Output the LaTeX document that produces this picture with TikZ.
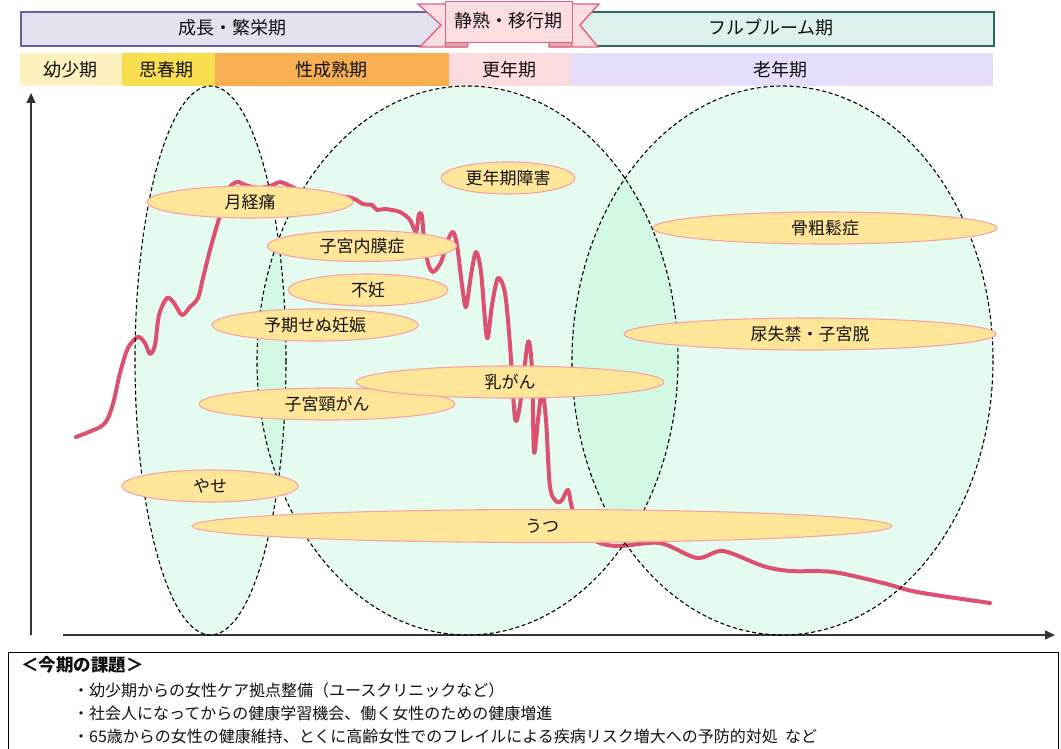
\documentclass[tikz,border=0pt]{standalone}
\usepackage{fontspec}
\setmainfont{Noto Sans CJK JP}
\usetikzlibrary{shapes.geometric,arrows.meta}
\definecolor{purpleFill}{HTML}{E4E1EE}
\definecolor{purpleLine}{HTML}{6A5F9C}
\definecolor{tealFill}{HTML}{DDF0EE}
\definecolor{tealLine}{HTML}{2E6A60}
\definecolor{ribFill}{HTML}{FCDDE1}
\definecolor{ribLine}{HTML}{E2607C}
\definecolor{foldFill}{HTML}{D9A9B2}
\definecolor{bandA}{HTML}{FDF2BD}
\definecolor{bandB}{HTML}{F9DF4F}
\definecolor{bandC}{HTML}{F6AF51}
\definecolor{bandD}{HTML}{FDDCDF}
\definecolor{bandE}{HTML}{E6DDFB}
\definecolor{labFill}{HTML}{FFE699}
\definecolor{labLine}{HTML}{F5A3A3}
\definecolor{curveCol}{HTML}{DC5070}
\definecolor{mint}{RGB}{151,242,192}
\definecolor{ink}{HTML}{111111}
\definecolor{axisCol}{HTML}{333333}
\begin{document}
\begin{tikzpicture}[x=1pt,y=-1pt,
  banner/.style={font=\fontsize{18pt}{21pt}\selectfont, text=ink, inner sep=0pt},
  band/.style={draw=none, inner sep=0pt, minimum height=33pt, anchor=north west, font=\fontsize{18pt}{21pt}\selectfont, text=ink},
  zone/.style={ellipse, draw=none, fill=mint, fill opacity=0.24, inner sep=0pt},
  zoneline/.style={draw=black, line width=1.1pt, dash pattern=on 4pt off 2.6pt},
  lab/.style={ellipse, draw=labLine, line width=1.1pt, fill=labFill, inner sep=0pt, minimum height=32pt, text=ink, font=\fontsize{17pt}{20pt}\selectfont},
  ribbon/.style={draw=ribLine, fill=ribFill, line width=1.4pt, line join=miter},
  fold/.style={draw=ribLine, fill=foldFill, line width=1pt, rounded corners=2pt},
  curve/.style={draw=curveCol, line width=4pt, line cap=round, line join=round},
  axis/.style={draw=axisCol, line width=1.3pt, -{Triangle[length=10pt,width=9pt]}},
  note/.style={anchor=west, inner sep=0pt, text=ink, font=\fontsize{16pt}{18pt}\selectfont}
]
\useasboundingbox (0,0) rectangle (1061,749);
\fill[white] (0,0) rectangle (1061,749);

% top stage bars
\node[draw=purpleLine, fill=purpleFill, line width=1.8pt, anchor=north west, minimum width=440pt, minimum height=34pt, inner sep=0pt] (grow) at (20,11) {};
\node[draw=tealLine, fill=tealFill, line width=1.8pt, anchor=north west, minimum width=433pt, minimum height=34pt, inner sep=0pt] (bloom) at (560,11) {};
\node[banner] (growt) at (232,28) {成長・繁栄期};
\node[banner] (bloomt) at (771,28) {フルブルーム期};

% ribbon
\filldraw[ribbon] (418,4) -- (467,4) -- (467,47) -- (420,47) -- (441,25) -- cycle;
\filldraw[ribbon] (599,4) -- (549,4) -- (549,47) -- (598,47) -- (580,25) -- cycle;
\filldraw[fold] (445,41) rectangle (468,47);
\filldraw[fold] (549,41) rectangle (572,47);
\node[ribbon, anchor=north west, minimum width=127pt, minimum height=41pt, inner sep=0pt] (rib) at (445,1) {};
\node[banner] (ribt) at (508,21) {静熟・移行期};

% life stage band
\node[band, fill=bandA, minimum width=102pt] (b1) at (20,53) {};
\node[band, fill=bandB, minimum width=93pt] (b2) at (122,53) {};
\node[band, fill=bandC, minimum width=234pt] (b3) at (215,53) {};
\node[band, fill=bandD, minimum width=122pt] (b4) at (449,53) {};
\node[band, fill=bandE, minimum width=422pt] (b5) at (571,53) {};
\node[banner] (b1t) at (70,70) {幼少期};
\node[banner] (b2t) at (166,70) {思春期};
\node[banner] (b3t) at (331,70) {性成熟期};
\node[banner] (b4t) at (509,70) {更年期};
\node[banner] (b5t) at (780,70) {老年期};

% axes
\coordinate (yo) at (31,635);
\coordinate (yt) at (31,93);
\coordinate (xo) at (63,635);
\coordinate (xt) at (1055,635);
\draw[axis] (yo) -- (yt);
\draw[axis] (xo) -- (xt);

% zones
\node[zone, minimum width=151pt, minimum height=549pt] (e1) at (210.5,360.5) {};
\node[zone, minimum width=421pt, minimum height=549pt] (e2) at (467.5,360.5) {};
\node[zone, minimum width=421pt, minimum height=549pt] (e3) at (782.5,360.5) {};

% curve
\draw[curve] plot[smooth, tension=0.5] coordinates {
(76,437) (100,427) (108,418) (114,400) (120,373) (128,348) (138,337) (145,343) (150,354) (155,345) (159,315) (167,298) (174,303) (182,315) (190,307) (198,298) (203,278) (210,250) (218,222) (228,190) (237,182) (245,185) (258,188) (270,186) (280,182) (288,185) (300,190) (330,195) (352,198) (363,204) (372,205) (377,210) (385,209) (400,212) (410,220) (416,232) (419,214) (422,216) (424,240) (428,263) (433,272) (441,262) (448,240) (453,232) (457,245) (462,285) (466,307) (471,275) (476,252) (481,272) (487,338) (492,305) (498,278) (505,293) (510,345) (515,418) (520,405) (528,342) (532,370) (534,452) (538,420) (542,390) (546,420) (550,487) (557,502) (562,500) (568,490) (572,508) (580,530) (600,543) (620,546) (660,543) (697,558) (723,551) (763,566) (790,571) (833,572) (883,583) (917,592) (990,603)};

% zone outlines
\draw[zoneline] (e1.center) ellipse [x radius=75.5, y radius=274.5];
\draw[zoneline] (e2.center) ellipse [x radius=210.5, y radius=274.5];
\draw[zoneline] (e3.center) ellipse [x radius=210.5, y radius=274.5];

% labels
\node[lab, minimum width=206pt] (l1) at (250,202) {月経痛};
\node[lab, minimum width=189pt, minimum height=31pt] (l2) at (362,246) {子宮内膜症};
\node[lab, minimum width=160pt] (l3) at (368,290) {不妊};
\node[lab, minimum width=206pt] (l4) at (315,325) {予期せぬ妊娠};
\node[lab, minimum width=256pt] (l5) at (327,404) {子宮頸がん};
\node[lab, minimum width=308pt] (l6) at (510,382) {乳がん};
\node[lab, minimum width=134pt] (l7) at (508,178) {更年期障害};
\node[lab, minimum width=176pt] (l8) at (210,486) {やせ};
\node[lab, minimum width=700pt, minimum height=33pt] (l9) at (542,526) {うつ};
\node[lab, minimum width=344pt] (l10) at (825,228) {骨粗鬆症};
\node[lab, minimum width=372pt] (l11) at (810,334) {尿失禁・子宮脱};

% bottom box
\node[draw=black, line width=1.3pt, anchor=north west, minimum width=1050pt, minimum height=120pt, inner sep=0pt] (box) at (8,652) {};
\node[note, font=\fontsize{17.5pt}{20pt}\selectfont\bfseries] (h) at (21,665) {＜今期の課題＞};
\node[note] (n1) at (73,690) {・幼少期からの女性ケア拠点整備（ユースクリニックなど）};
\node[note] (n2) at (73,713) {・社会人になってからの健康学習機会、働く女性のための健康増進};
\node[note] (n3) at (73,736) {・65歳からの女性の健康維持、とくに高齢女性でのフレイルによる疾病リスク増大への予防的対処\ \ など};
\end{tikzpicture}
\end{document}
